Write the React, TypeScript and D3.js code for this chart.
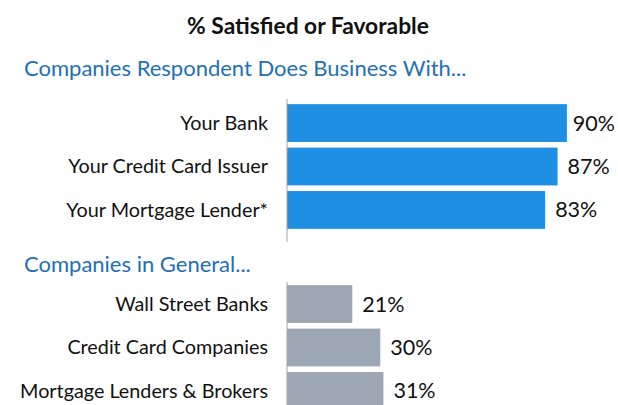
import { useEffect, useRef } from "react"
import * as d3 from "d3"

const WIDTH = 618
const HEIGHT = 405

const title = "% Satisfied or Favorable"
const groupTitles = ["Companies Respondent Does Business With...", "Companies in General..."]

const ownCategories = ["Your Bank", "Your Credit Card Issuer", "Your Mortgage Lender*"]
const ownValues = [90, 87, 83]

const generalCategories = ["Wall Street Banks", "Credit Card Companies", "Mortgage Lenders & Brokers"]
const generalValues = [21, 30, 31]

const FONT = "Lato, 'Open Sans', sans-serif"

export default function App() {
  const svgRef = useRef<SVGSVGElement | null>(null)

  useEffect(() => {
    document.body.style.margin = "0"
    if (!svgRef.current) return
    const svg = d3.select(svgRef.current)
    svg.selectAll("*").remove()

    const axisX = 287
    const x = d3.scaleLinear().domain([0, 100]).range([axisX, axisX + 311])
    const rightEdge = 615

    svg
      .append("text")
      .attr("x", 308)
      .attr("y", 34)
      .attr("text-anchor", "middle")
      .style("font-family", FONT)
      .style("font-weight", "700")
      .style("font-size", "22.8px")
      .style("fill", "#111")
      .text(title)

    const groups = [
      {
        title: groupTitles[0],
        titleY: 76,
        categories: ownCategories,
        values: ownValues,
        range: [98.5, 234.5],
        axis: [99, 242],
        color: "#1f8fe3",
      },
      {
        title: groupTitles[1],
        titleY: 272,
        categories: generalCategories,
        values: generalValues,
        range: [279.5, 415.5],
        axis: [282, 405],
        color: "#9da6b3",
      },
    ]

    groups.forEach((g) => {
      svg
        .append("text")
        .attr("x", 24)
        .attr("y", g.titleY)
        .style("font-family", FONT)
        .style("font-size", "22px")
        .style("fill", "#1f70b5")
        .text(g.title)

      const y = d3.scaleBand<string>().domain(g.categories).range(g.range as [number, number]).padding(0.13)

      const rows = g.categories.map((c, i) => ({ category: c, value: g.values[i] }))

      svg
        .append("g")
        .selectAll("rect")
        .data(rows)
        .join("rect")
        .attr("x", x(0))
        .attr("y", (d) => y(d.category)!)
        .attr("width", (d) => x(d.value) - x(0))
        .attr("height", y.bandwidth())
        .attr("fill", g.color)

      svg
        .append("line")
        .attr("x1", axisX)
        .attr("x2", axisX)
        .attr("y1", g.axis[0])
        .attr("y2", g.axis[1])
        .attr("stroke", "#a6a6a6")
        .attr("stroke-width", 1)

      svg
        .append("g")
        .selectAll("text")
        .data(rows)
        .join("text")
        .attr("x", 268)
        .attr("y", (d) => y(d.category)! + y.bandwidth() / 2)
        .attr("dy", "0.35em")
        .attr("text-anchor", "end")
        .style("font-family", FONT)
        .style("font-size", "19.8px")
        .style("fill", "#111")
        .text((d) => d.category)

      svg
        .append("g")
        .selectAll("text")
        .data(rows)
        .join("text")
        .attr("x", (d) => (x(d.value) + 10 + 46 > rightEdge ? rightEdge : x(d.value) + 10))
        .attr("y", (d) => y(d.category)! + y.bandwidth() / 2)
        .attr("dy", "0.35em")
        .attr("text-anchor", (d) => (x(d.value) + 10 + 46 > rightEdge ? "end" : "start"))
        .style("font-family", FONT)
        .style("font-size", "21.5px")
        .style("fill", "#111")
        .text((d) => `${d.value}%`)
    })
  }, [])

  return <svg ref={svgRef} width={WIDTH} height={HEIGHT} style={{ display: "block", background: "#fff" }}></svg>
}
